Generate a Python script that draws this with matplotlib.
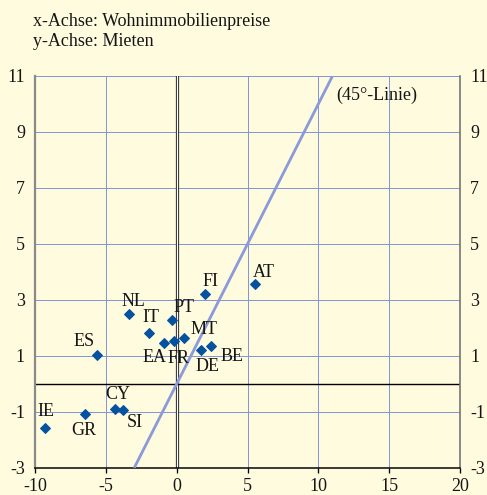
import matplotlib
matplotlib.use("Agg")
import matplotlib.pyplot as plt
import matplotlib.patheffects as pe

# Country codes with house price growth (x) and rent growth (y), in %
countries = ["AT", "FI", "NL", "PT", "IT", "EA", "FR", "MT", "DE", "BE",
             "ES", "CY", "SI", "GR", "IE"]
house_prices = [5.55, 1.99, -3.35, -0.30, -1.94, -0.92, -0.19, 0.50, 1.72, 2.43,
                -5.62, -4.38, -3.78, -6.45, -9.29]
rents = [3.57, 3.20, 2.51, 2.29, 1.81, 1.45, 1.52, 1.64, 1.20, 1.36,
         1.02, -0.88, -0.92, -1.08, -1.56]

# label offsets in points (dx, dy) relative to each marker
label_offsets = {
    "AT": (9, 12), "FI": (6, 13), "NL": (4, 12), "PT": (12, 12), "IT": (2, 16),
    "EA": (-9, -14), "FR": (5, -17), "MT": (20, 9), "DE": (6, -16), "BE": (21, -11),
    "ES": (-13, 14), "CY": (3, 14), "SI": (12, -13), "GR": (-1, -16), "IE": (1, 16),
}

x_ticks = [-10, -5, 0, 5, 10, 15, 20]
y_ticks = [-3, -1, 1, 3, 5, 7, 9, 11]
line_45 = [-3, 11]

bg = "#fffbdf"
grid_blue = "#8296d8"
marker_blue = "#0552a0"
text_col = "#151515"
fs = 18
serif = ["Liberation Serif", "DejaVu Serif"]
plt.rcParams["font.family"] = serif

fig = plt.figure(figsize=(487 / 72, 495 / 72), dpi=72, facecolor=bg)
ax = fig.add_axes([35 / 487, 27 / 495, 425 / 487, 392 / 495], facecolor=bg)

ax.set_xlim(-10, 20)
ax.set_ylim(-3, 11)

# grid lines
for xv in x_ticks[1:-1]:
    if xv == 0:
        continue
    ax.axvline(xv, color=grid_blue, lw=1.0, zorder=1)
for yv in y_ticks[1:]:
    ax.axhline(yv, color=grid_blue, lw=1.0, zorder=1)

# zero lines
ax.axvline(0, color="white", lw=1.2, zorder=2,
           path_effects=[pe.Stroke(linewidth=3.2, foreground="#2a2a2a"), pe.Normal()])
ax.axhline(0, color="black", lw=1.4, zorder=2)

# 45-degree line
ax.plot(line_45, line_45, color="#8b9ad8", lw=2.8, zorder=3, solid_capstyle="butt")
ax.text(14.1, 10.32, "(45°-Linie)", fontsize=fs, ha="center", va="center",
        color=text_col, zorder=4)

# scatter points with labels
ax.plot(house_prices, rents, linestyle="none", marker="D", ms=7.5,
        color=marker_blue, mec=marker_blue, zorder=5)
for name, xv, yv in zip(countries, house_prices, rents):
    dx, dy = label_offsets[name]
    ax.annotate(name, (xv, yv), xytext=(dx, dy), textcoords="offset points",
                ha="center", va="center", fontsize=fs, color=text_col, zorder=6)

# spines
ax.spines["top"].set_visible(False)
ax.spines["left"].set_color("#8a8a8a")
ax.spines["left"].set_linewidth(2.2)
ax.spines["right"].set_color("#707070")
ax.spines["right"].set_linewidth(1.6)
ax.spines["bottom"].set_color("black")
ax.spines["bottom"].set_linewidth(1.5)

ax.set_xticks(x_ticks)
ax.set_xticklabels([str(v) for v in x_ticks])
ax.set_yticks(y_ticks)
ax.set_yticklabels([str(v) for v in y_ticks])
ax.tick_params(axis="x", direction="out", length=5, width=1.3, color="black",
               labelsize=fs, labelcolor=text_col, pad=5)
ax.tick_params(axis="y", length=0, labelsize=fs, labelcolor=text_col, pad=10,
               left=True, right=True, labelleft=True, labelright=True)

fig.text(33 / 487, 469 / 495, "x-Achse: Wohnimmobilienpreise", fontsize=fs,
         ha="left", va="baseline", color=text_col)
fig.text(33 / 487, 449 / 495, "y-Achse: Mieten", fontsize=fs,
         ha="left", va="baseline", color=text_col)

fig.savefig("out.png", dpi=72, facecolor=bg)
